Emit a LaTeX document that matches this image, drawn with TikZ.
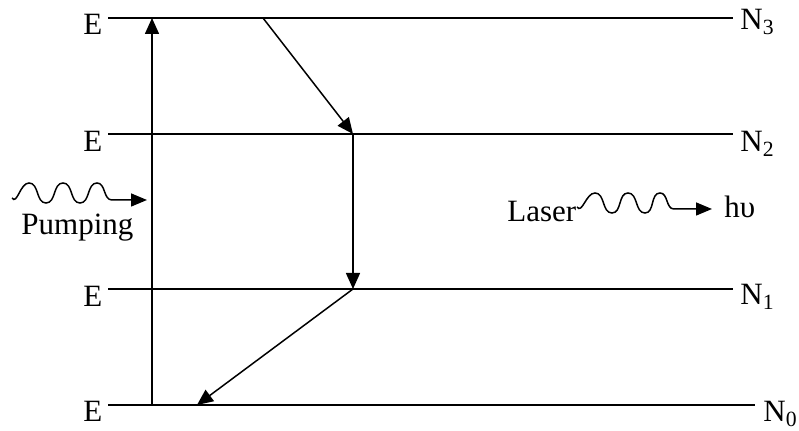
\documentclass[tikz,border=0pt]{standalone}
\usepackage{fontspec}
\setmainfont{Liberation Serif}
\usetikzlibrary{arrows.meta}
\tikzset{
	lvl/.style={line width=1pt},
	jump/.style={-{Triangle[length=8pt,width=7pt]},line width=0.75pt},
	photon/.style={-{Triangle[length=8pt,width=6.5pt]},line width=0.75pt},
	lbl/.style={anchor=base west,inner sep=0pt},
}
\begin{document}
\begin{tikzpicture}[x=0.5pt,y=-0.5pt,font=\fontsize{15.5}{18}\selectfont]
		\useasboundingbox (0,0) rectangle (799,431);
		% Level end points
		\coordinate (a3) at (108,18);  \coordinate (b3) at (733,18);
		\coordinate (a2) at (108,134); \coordinate (b2) at (733,134);
		\coordinate (a1) at (108,289); \coordinate (b1) at (733,289);
		\coordinate (a0) at (108,405); \coordinate (b0) at (755,405);
		% Energy levels
		\foreach \i in {0,...,3}{
				\draw[lvl] (a\i)--(b\i);
			}
		% Level labels
		\node[lbl] (E3) at (83,35) {E};
		\node[lbl] (E2) at (83,152) {E};
		\node[lbl] (E1) at (83,307) {E};
		\node[lbl] (E0) at (83,422) {E};
		\node[lbl] (N3) at (740,30) {N\textsubscript{3}};
		\node[lbl] (N2) at (740,152) {N\textsubscript{2}};
		\node[lbl] (N1) at (740,305) {N\textsubscript{1}};
		\node[lbl] (N0) at (763,422) {N\textsubscript{0}};
		% Transitions
		\coordinate (p0) at (152,405);
		\coordinate (p3) at (152,18);
		\coordinate (t3) at (263,18);
		\coordinate (t2) at (353,134);
		\coordinate (t1) at (353,289);
		\coordinate (t0) at (197,405);
		\draw[jump] (p0)--(p3);
		\draw[jump] (t3)--(t2);
		\draw[jump] (t2)--(t1);
		\draw[jump] (t1)--(t0);
		% Pumping wave
		\coordinate (w0) at (12,198);
		\coordinate (w1) at (147,200);
		\draw[photon] (w0) to[out=-55,in=180] (29,183) to[out=0,in=180] (46,203)
		to[out=0,in=180] (63,183) to[out=0,in=180] (80,203)
		to[out=0,in=180] (97,183) to[out=0,in=180] (112,200) -- (w1);
		\node[lbl] (pump) at (21,235) {Pumping};
		% Laser wave
		\node[lbl] (laser) at (507,222) {Laser};
		\coordinate (v0) at (577,207);
		\coordinate (v1) at (712,209);
		\draw[photon] (v0) to[out=-55,in=180] (595,193) to[out=0,in=180] (612,213)
		to[out=0,in=180] (628,193) to[out=0,in=180] (645,213)
		to[out=0,in=180] (660,193) to[out=0,in=180] (674,209) -- (v1);
		\node[lbl] (hv) at (724,218) {hυ};
	\end{tikzpicture}
\end{document}
